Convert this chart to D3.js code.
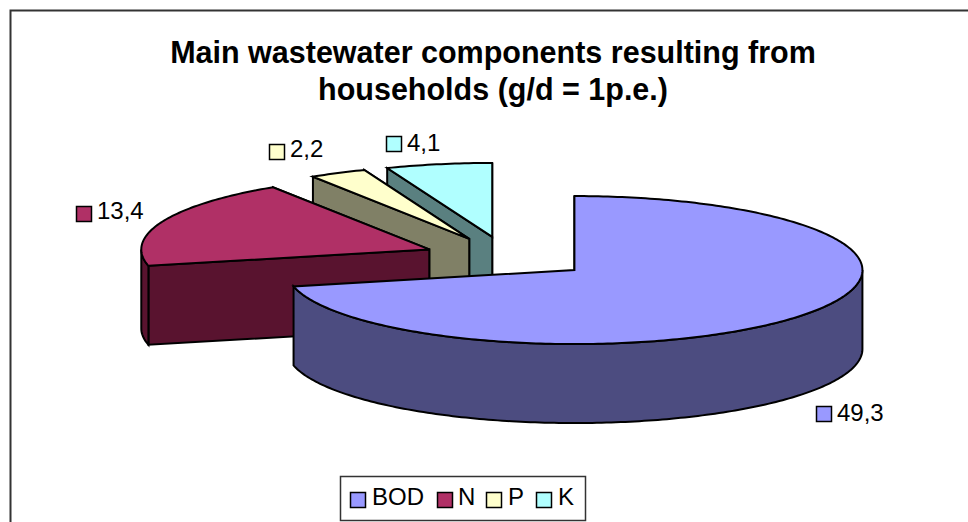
<!DOCTYPE html>
<html>
<head>
<meta charset="utf-8">
<script src="https://cdn.jsdelivr.net/npm/d3@7"></script>
<style>
  html, body { margin: 0; padding: 0; background: #fff; }
  svg { display: block; }
  text { font-family: "Liberation Sans", Arial, sans-serif; fill: #000; }
</style>
</head>
<body>
<div id="my_dataviz"></div>
<script>
  // chart data
  const categories = ["BOD", "N", "P", "K"];
  const values = [49.3, 13.4, 2.2, 4.1];
  const valueLabels = ["49,3", "13,4", "2,2", "4,1"];
  const titleLines = ["Main wastewater components resulting from", "households (g/d = 1p.e.)"];

  // colours: top face and the darker side face
  const topColors = ["#9999ff", "#b03066", "#ffffcc", "#b0ffff"];
  const sideColors = ["#4c4c80", "#59132f", "#808066", "#5a8080"];

  const width = 968, height = 522;

  const svg = d3.select("#my_dataviz")
    .append("svg")
      .attr("width", width)
      .attr("height", height);

  // outer frame, cropped by the right and bottom edge of the picture
  svg.append("path")
    .attr("d", `M10.5,${height}V10.5H${width}`)
    .attr("fill", "none")
    .attr("stroke", "#333")
    .attr("stroke-width", 2);

  // title
  svg.append("g").selectAll("text")
    .data(titleLines)
    .enter().append("text")
      .attr("x", 493)
      .attr("y", (d, i) => 63 + i * 37)
      .attr("text-anchor", "middle")
      .style("font-size", "30.5px")
      .style("font-weight", "bold")
      .text(d => d);

  // 3D pie geometry
  const pieCenter = {x: 508, y: 257.2},
      rx = 288,
      ry = 74,
      depth = 79,
      explodeX = 85,
      explodeY = 20.6;

  const slices = d3.pie().sort(null).value(d => d)(values);

  // offset of every slice along its middle angle
  function sliceCenter(s) {
    const mid = (s.startAngle + s.endAngle) / 2;
    return {
      x: pieCenter.x + explodeX * Math.sin(mid),
      y: pieCenter.y - explodeY * Math.cos(mid)
    };
  }

  function rimPoint(c, a, dy) {
    return [c.x + rx * Math.sin(a), c.y - ry * Math.cos(a) + (dy || 0)];
  }

  function arcPoints(c, a0, a1, dy) {
    const n = Math.max(2, Math.ceil((a1 - a0) * 60));
    return d3.range(n + 1).map(i => rimPoint(c, a0 + (a1 - a0) * i / n, dy));
  }

  const line = d3.line();
  const chart = svg.append("g");

  function face(pts, color) {
    chart.append("path")
      .attr("d", line(pts) + "Z")
      .attr("fill", color)
      .attr("stroke", "#000")
      .attr("stroke-width", 2)
      .attr("stroke-linejoin", "miter");
  }

  // painter's order: the slices at the back first, the big one last
  [3, 2, 1, 0].forEach(function(i) {
    const s = slices[i], c = sliceCenter(s);
    const apex = [c.x, c.y], apexLow = [c.x, c.y + depth];

    // cut walls
    [s.endAngle, s.startAngle].forEach(function(a) {
      const p = rimPoint(c, a), q = rimPoint(c, a, depth);
      if (Math.cos(a) > 0 || i != 0) face([apex, p, q, apexLow], sideColors[i]);
    });

    // rim, only the part turned to the viewer
    const a0 = Math.max(s.startAngle, Math.PI / 2),
        a1 = Math.min(s.endAngle, Math.PI * 1.5);
    if (a1 > a0) {
      face(arcPoints(c, a0, a1, 0).concat(arcPoints(c, a0, a1, depth).reverse()), sideColors[i]);
    }

    // top
    face([apex].concat(arcPoints(c, s.startAngle, s.endAngle, 0)), topColors[i]);
  });

  // data labels with their colour key
  const labelX = [816, 76, 269, 386];
  const labelY = [406, 206, 144, 136];
  const labelBase = [421, 219, 157, 151];
  const labels = svg.append("g").selectAll("g")
    .data(valueLabels)
    .enter().append("g");

  labels.append("rect")
    .attr("x", (d, i) => labelX[i] + 0.5)
    .attr("y", (d, i) => labelY[i] + 0.5)
    .attr("width", 15).attr("height", 15)
    .attr("fill", (d, i) => topColors[i])
    .attr("stroke", "#000")
    .attr("stroke-width", 1.5);

  labels.append("text")
    .attr("x", (d, i) => labelX[i] + 21)
    .attr("y", (d, i) => labelBase[i])
    .style("font-size", "24px")
    .text(d => d);

  // legend
  const legendMarkX = [350, 437, 486, 536];
  const legendTextX = [372, 458, 508, 558];

  svg.append("rect")
    .attr("x", 340.5).attr("y", 476.5)
    .attr("width", 245).attr("height", 44)
    .attr("fill", "#fff")
    .attr("stroke", "#333")
    .attr("stroke-width", 1.5);

  const legend = svg.append("g").selectAll("g")
    .data(categories)
    .enter().append("g");

  legend.append("rect")
    .attr("x", (d, i) => legendMarkX[i] + 0.5)
    .attr("y", 492.5)
    .attr("width", 15).attr("height", 15)
    .attr("fill", (d, i) => topColors[i])
    .attr("stroke", "#000")
    .attr("stroke-width", 1.5);

  legend.append("text")
    .attr("x", (d, i) => legendTextX[i])
    .attr("y", 505)
    .style("font-size", "24px")
    .text(d => d);
</script>
</body>
</html>
